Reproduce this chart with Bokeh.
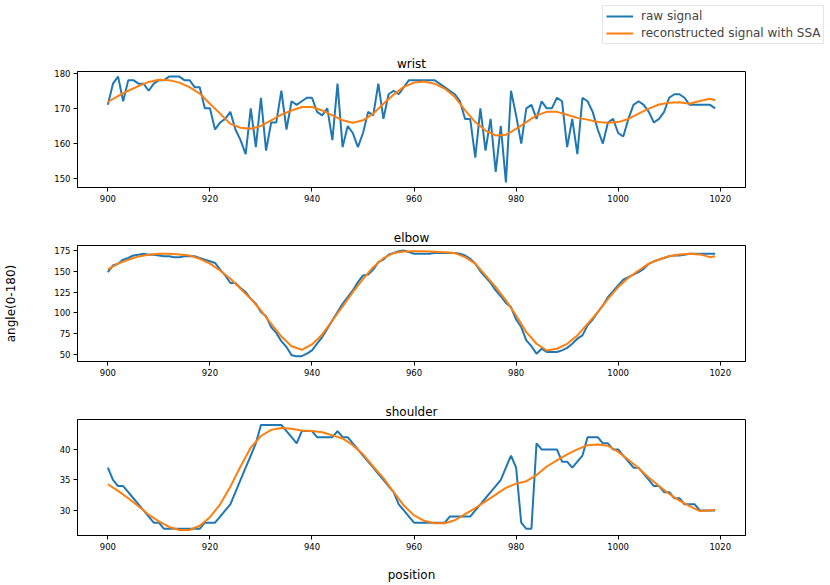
from bokeh.plotting import figure
from bokeh.models import Range1d, FixedTicker, Legend, LegendItem
from bokeh.layouts import column, row
from bokeh.embed import file_html
from bokeh.resources import INLINE

positions = list(range(900, 1020))
ssa_positions = list(range(900, 1020, 2)) + [1019]
x_ticks = [900, 920, 940, 960, 980, 1000, 1020]

wrist_raw = [171, 177, 179, 172, 178, 178, 177, 177, 175, 177,
             178, 178, 179, 179, 179, 178, 178, 176, 176, 170,
             170, 164, 166, 167, 169, 164, 161, 157, 170, 159,
             173, 158, 166, 166, 175, 164, 172, 171, 172, 173,
             173, 169, 168, 170, 161, 177, 159, 165, 163, 159,
             163, 169, 168, 177, 167, 174, 175, 174, 176, 178,
             178, 178, 178, 178, 178, 177, 176, 175, 174, 172,
             167, 167, 156, 170, 158, 167, 152, 165, 149, 175,
             168, 160, 170, 171, 167, 172, 170, 170, 173, 172,
             159, 167, 157, 173, 172, 169, 164, 160, 166, 167,
             163, 162, 167, 171, 172, 171, 169, 166, 167, 169,
             173, 174, 174, 173, 171, 171, 171, 171, 171, 170]
wrist_ssa = [171.8, 173.5, 175.0, 176.3, 177.5, 178.1, 178.0, 177.3, 176.0, 174.2,
             171.3, 168.5, 165.6, 164.5, 164.2, 165.0, 166.6, 168.2, 169.4, 170.4,
             170.4, 169.4, 168.0, 166.6, 165.9, 166.6, 168.5, 171.3, 173.9, 176.1,
             177.3, 177.6, 177.0, 175.6, 173.2, 169.4, 166.1, 163.7, 162.3, 162.5,
             164.2, 166.1, 168.0, 169.0, 169.0, 168.2, 167.3, 166.8, 166.1, 165.9,
             166.1, 167.0, 168.5, 169.9, 171.1, 171.6, 171.7, 171.3, 172.1, 172.7,
             172.3]

elbow_raw = [149, 157, 159, 164, 166, 169, 170, 171, 170, 170,
             169, 168, 168, 167, 167, 168, 168, 168, 166, 164,
             162, 160, 152, 145, 136, 136, 130, 125, 117, 111,
             101, 96, 83, 76, 66, 59, 49, 48, 48, 51,
             55, 63, 71, 81, 91, 101, 111, 119, 127, 137,
             145, 146, 152, 161, 164, 170, 172, 174, 175, 173,
             171, 171, 171, 171, 172, 172, 172, 172, 172, 171,
             169, 165, 159, 150, 143, 136, 127, 120, 112, 107,
             92, 83, 67, 60, 51, 57, 53, 53, 53, 55,
             58, 63, 69, 73, 85, 92, 101, 109, 119, 126,
             133, 140, 143, 146, 149, 153, 159, 162, 164, 166,
             168, 169, 169, 170, 171, 171, 171, 171, 171, 171]
elbow_ssa = [152.2, 159.2, 163.8, 167.9, 169.8, 171.0, 171.0, 170.3, 169.0, 165.0,
             159.2, 151.0, 141.0, 129.0, 116.9, 102.9, 86.9, 71.7, 60.0, 55.7,
             62.1, 74.1, 90.9, 107.7, 125.0, 141.0, 155.0, 165.7, 171.9, 173.9,
             174.0, 174.0, 173.5, 173.0, 171.9, 167.0, 159.2, 145.0, 131.0, 115.0,
             96.9, 76.9, 62.9, 54.8, 56.9, 62.9, 72.9, 86.9, 101.0, 116.9,
             131.0, 142.2, 151.0, 159.2, 164.2, 168.2, 170.3, 171.0, 170.3, 167.0,
             168.2]

shoulder_raw = [37, 35, 34, 34, 33, 32, 31, 30, 29, 28,
                28, 27, 27, 27, 27, 27, 27, 27, 27, 28,
                28, 28, 29, 30, 31, 33, 35, 37, 39, 41,
                44, 44, 44, 44, 44, 43, 42, 41, 43, 43,
                43, 42, 42, 42, 42, 43, 42, 42, 41, 40,
                39, 38, 37, 36, 35, 34, 33, 31, 30, 29,
                28, 28, 28, 28, 28, 28, 28, 29, 29, 29,
                29, 29, 30, 31, 32, 33, 34, 35, 37, 39,
                37, 28, 27, 27, 41, 40, 40, 40, 40, 38,
                38, 37, 38, 39, 42, 42, 42, 41, 41, 40,
                40, 39, 38, 37, 37, 36, 35, 34, 34, 33,
                33, 32, 32, 31, 31, 31, 30, 30, 30, 30]
shoulder_ssa = [34.3, 33.2, 32.0, 30.7, 29.3, 28.2, 27.3, 26.8, 26.8, 27.5,
                28.9, 31.0, 33.9, 37.2, 40.3, 42.2, 43.2, 43.5, 43.4, 43.1,
                43.0, 42.8, 42.3, 41.8, 40.7, 39.2, 37.2, 35.3, 33.0, 30.8,
                29.2, 28.3, 27.9, 27.9, 28.4, 29.4, 30.4, 31.5, 32.6, 33.7,
                34.4, 34.8, 35.8, 37.2, 38.2, 39.2, 40.0, 40.7, 40.8, 40.6,
                39.6, 38.3, 36.9, 35.4, 34.0, 32.7, 31.6, 30.7, 29.9, 30.0,
                30.1]

FONT = "DejaVu Sans"
RAW_COLOR = "#1f77b4"
SSA_COLOR = "#ff7f0e"
W = 830


def panel(name, raw, ssa, y0, y1, yticks, top, bottom, height):
    p = figure(width=W, height=height, x_range=Range1d(894.05, 1024.95),
               y_range=Range1d(y0, y1), output_backend="svg", toolbar_location=None,
               min_border_left=77, min_border_right=85, min_border_top=top,
               min_border_bottom=bottom, title=name)
    p.title.align = "center"
    p.title.text_font = FONT
    p.title.text_font_size = "12px"
    p.title.text_font_style = "normal"
    p.title.text_color = "black"
    p.title.standoff = 2
    p.grid.visible = False
    p.outline_line_color = "black"
    p.outline_line_width = 1
    p.background_fill_color = "white"
    p.border_fill_color = "white"
    for ax in (p.xaxis[0], p.yaxis[0]):
        ax.major_tick_in = 0
        ax.major_tick_out = 4
        ax.minor_tick_line_color = None
        ax.major_label_text_font = FONT
        ax.major_label_text_font_size = "8.5px"
        ax.major_label_text_color = "black"
        ax.axis_line_color = "black"
        ax.major_tick_line_color = "black"
        ax.major_label_standoff = 3
    p.xaxis.ticker = FixedTicker(ticks=x_ticks)
    p.yaxis.ticker = FixedTicker(ticks=yticks)
    p.line(positions, raw, line_color=RAW_COLOR, line_width=2)
    p.line(ssa_positions, ssa, line_color=SSA_COLOR, line_width=2)
    return p


# legend strip at the top of the page (its renderers hold the first
# points of the series, which lie outside this strip's own ranges)
p0 = figure(width=W, height=50, x_range=Range1d(0, 1), y_range=Range1d(0, 1),
            output_backend="svg", toolbar_location=None, min_border=0,
            x_axis_location=None, y_axis_location=None)
p0.grid.visible = False
p0.outline_line_color = None
p0.border_fill_color = "white"
lr = p0.line(positions[:2], wrist_raw[:2], line_color=RAW_COLOR, line_width=2)
ls = p0.line(ssa_positions[:2], wrist_ssa[:2], line_color=SSA_COLOR, line_width=2)
legend = Legend(items=[LegendItem(label="raw signal", renderers=[lr]),
                       LegendItem(label="reconstructed signal with SSA", renderers=[ls])],
                location=(602, 6), label_text_font=FONT, label_text_font_size="12px",
                glyph_width=27, glyph_height=14, label_height=14, spacing=3,
                padding=3, margin=0, label_standoff=8,
                border_line_color="#cccccc", background_fill_alpha=1.0)
p0.add_layout(legend)

p1 = panel("wrist", wrist_raw, wrist_ssa, 147.55, 180.45,
           [150, 160, 170, 180], 21, 36, 173)
p2 = panel("elbow", elbow_raw, elbow_ssa, 41.6, 181.0,
           [50, 75, 100, 125, 150, 175], 22, 36, 174)
p3 = panel("shoulder", shoulder_raw, shoulder_ssa, 25.9, 44.9,
           [30, 35, 40], 22, 49, 187)

p2.yaxis.axis_label = "angle(0-180)"
p2.yaxis.axis_label_text_font = FONT
p2.yaxis.axis_label_text_font_size = "12px"
p2.yaxis.axis_label_text_font_style = "normal"
p2.yaxis.axis_label_text_color = "black"
p2.yaxis.axis_label_standoff = 33

p3.xaxis.axis_label = "position"
p3.xaxis.axis_label_text_font = FONT
p3.xaxis.axis_label_text_font_size = "12px"
p3.xaxis.axis_label_text_font_style = "normal"
p3.xaxis.axis_label_text_color = "black"
p3.xaxis.axis_label_standoff = 15

layout = column(row(p0), column(p1, p2, p3, spacing=0), spacing=0)
open("out.html", "w").write(file_html(layout, INLINE))
